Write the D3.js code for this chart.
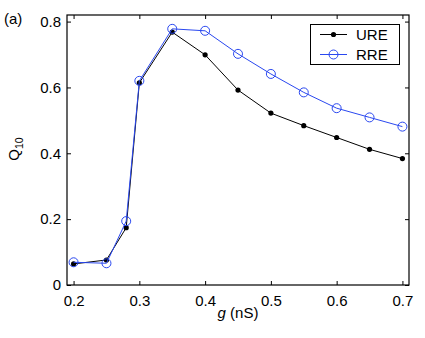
<!DOCTYPE html>
<html><head><meta charset="utf-8">
<script src="https://cdn.jsdelivr.net/npm/d3@7"></script>
<style>body{margin:0;background:#fff}svg{display:block}text{font-family:"Liberation Sans",Arial,sans-serif}</style>
</head><body><svg id="c" width="425" height="338"></svg>
<script>
const gValues = [0.2, 0.25, 0.28, 0.3, 0.35, 0.4, 0.45, 0.5, 0.55, 0.6, 0.65, 0.7];
const ureValues = [0.064, 0.076, 0.174, 0.614, 0.768, 0.699, 0.592, 0.522, 0.484, 0.448, 0.412, 0.384];
const rreValues = [0.069, 0.066, 0.194, 0.620, 0.778, 0.772, 0.702, 0.641, 0.585, 0.537, 0.509, 0.481];
const xTicks = [0.2, 0.3, 0.4, 0.5, 0.6, 0.7];
const yTicks = [0, 0.2, 0.4, 0.6, 0.8];
const seriesNames = ["URE", "RRE"];

const svg = d3.select("#c");
const L = 67, R = 409, T = 15, B = 285;
const x = d3.scaleLinear().domain([0.19, 0.71]).range([L, R]);
const y = d3.scaleLinear().domain([0, 0.82]).range([B, T]);
const fmt = d => d === 0 ? "0" : d3.format(".1f")(d);
const fs = 15;

// box
svg.append("rect").attr("x", L).attr("y", T).attr("width", R - L).attr("height", B - T)
  .attr("fill", "none").attr("stroke", "#000").attr("stroke-width", 1.2);

// axes
const xb = svg.append("g").attr("transform", `translate(0,${B})`)
  .call(d3.axisBottom(x).tickValues(xTicks).tickFormat(fmt).tickSizeInner(-4).tickSizeOuter(0).tickPadding(10));
const xt = svg.append("g").attr("transform", `translate(0,${T})`)
  .call(d3.axisTop(x).tickValues(xTicks).tickFormat("").tickSizeInner(-4).tickSizeOuter(0));
const yl = svg.append("g").attr("transform", `translate(${L},0)`)
  .call(d3.axisLeft(y).tickValues(yTicks).tickFormat(fmt).tickSizeInner(-4).tickSizeOuter(0).tickPadding(6));
const yr = svg.append("g").attr("transform", `translate(${R},0)`)
  .call(d3.axisRight(y).tickValues(yTicks).tickFormat("").tickSizeInner(-4).tickSizeOuter(0));
[xb, xt, yl, yr].forEach(a => {
  a.select(".domain").remove();
  a.selectAll("line").attr("stroke", "#000");
  a.selectAll("text").attr("font-size", fs).attr("fill", "#000").attr("font-family", '"Liberation Sans",Arial,sans-serif');
});

// lines
const line = vals => d3.line().x((d, i) => x(gValues[i])).y(d => y(d))(vals);
svg.append("path").attr("d", line(ureValues)).attr("fill", "none").attr("stroke", "#000").attr("stroke-width", 1);
svg.selectAll(".ure").data(ureValues).join("circle").attr("cx", (d, i) => x(gValues[i])).attr("cy", d => y(d))
  .attr("r", 2.6).attr("fill", "#000");
svg.append("path").attr("d", line(rreValues)).attr("fill", "none").attr("stroke", "#2a48f0").attr("stroke-width", 1);
svg.selectAll(".rre").data(rreValues).join("circle").attr("cx", (d, i) => x(gValues[i])).attr("cy", d => y(d))
  .attr("r", 4.5).attr("fill", "none").attr("stroke", "#2a48f0").attr("stroke-width", 1);

// legend
svg.append("rect").attr("x", 310.5).attr("y", 24.5).attr("width", 89).attr("height", 40)
  .attr("fill", "#fff").attr("stroke", "#000").attr("stroke-width", 1);
const legY = [34.5, 54.5];
const legCol = ["#000", "#2a48f0"];
seriesNames.forEach((n, i) => {
  svg.append("line").attr("x1", 320).attr("x2", 347).attr("y1", legY[i]).attr("y2", legY[i]).attr("stroke", legCol[i]);
  if (i === 0) svg.append("circle").attr("cx", 333.5).attr("cy", legY[i]).attr("r", 2.6).attr("fill", "#000");
  else svg.append("circle").attr("cx", 333.5).attr("cy", legY[i]).attr("r", 4.5).attr("fill", "none").attr("stroke", legCol[i]);
  svg.append("text").attr("x", 356).attr("y", legY[i] + 5.5).attr("font-size", fs).text(n);
});

// axis titles
const xl = svg.append("text").attr("x", 238).attr("y", 318).attr("text-anchor", "middle").attr("font-size", fs);
xl.append("tspan").attr("font-style", "italic").text("g");
xl.append("tspan").text(" (nS)");
const ylab = svg.append("text").attr("transform", "translate(19,149) rotate(-90)").attr("text-anchor", "middle").attr("font-size", fs);
ylab.append("tspan").text("Q");
ylab.append("tspan").attr("font-size", 10.5).attr("dy", 4).text("10");

svg.append("text").attr("x", 4).attr("y", 24).attr("font-size", fs).text("(a)");
</script></body></html>
